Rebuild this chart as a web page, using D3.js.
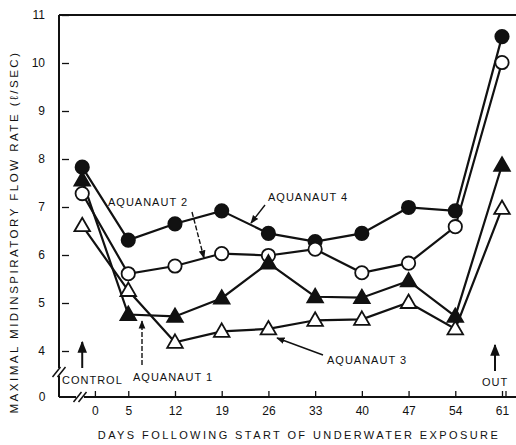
<!DOCTYPE html>
<html><head><meta charset="utf-8">
<script src="https://cdn.jsdelivr.net/npm/d3@7"></script>
<style>body{margin:0;background:#fff}svg{display:block}text{font-family:"Liberation Sans",Arial,sans-serif;fill:#111}</style>
</head><body><svg id="c" width="516" height="445"></svg>
<script>
// Days (control measurement is plotted just left of day 0)
const days = [-1.9, 5, 12, 19, 26, 33, 40, 47, 54, 61];
const xTicks = [0, 5, 12, 19, 26, 33, 40, 47, 54, 61];
const xTickLabels = ["0", "5", "12", "19", "26", "33", "40", "47", "54", "61"];
const yTicks = [4, 5, 6, 7, 8, 9, 10, 11];
const aquanaut1 = [7.56, 4.76, 4.72, 5.10, 5.83, 5.13, 5.11, 5.46, 4.72, 7.87]; // filled triangle
const aquanaut2 = [7.28, 5.61, 5.77, 6.03, 5.99, 6.12, 5.63, 5.83, 6.59, 10.01]; // open circle
const aquanaut3 = [6.61, 5.26, 4.18, 4.41, 4.46, 4.64, 4.66, 5.01, 4.46, 6.97]; // open triangle
const aquanaut4 = [7.83, 6.31, 6.65, 6.92, 6.45, 6.28, 6.45, 6.99, 6.92, 10.55]; // filled circle

const svg = d3.select("#c");
const x = d3.scaleLinear().domain([0, 61]).range([94.9, 502]);
const y = d3.scaleLinear().domain([4, 11]).range([351, 15]);
const yZero = 397, xLeft = 59, xRight = 516;

// frame: top line, left axis, bottom axis
svg.append("line").attr("x1", xLeft).attr("x2", xRight).attr("y1", y(11)).attr("y2", y(11)).attr("stroke", "#111").attr("stroke-width", 2);
svg.append("line").attr("x1", xLeft).attr("x2", xLeft).attr("y1", y(11)).attr("y2", yZero).attr("stroke", "#111").attr("stroke-width", 2);
svg.append("line").attr("x1", xLeft).attr("x2", xRight).attr("y1", yZero).attr("y2", yZero).attr("stroke", "#111").attr("stroke-width", 2);

// y axis ticks
const yAx = svg.append("g").attr("transform", `translate(${xLeft},0)`)
  .call(d3.axisLeft(y).tickValues(yTicks).tickSize(-7).tickPadding(14).tickFormat(d3.format("d")));
yAx.select(".domain").remove();
yAx.selectAll("line").attr("stroke", "#111").attr("stroke-width", 1.3).attr("transform", "translate(3,0)");
yAx.selectAll("text").attr("font-size", 12).style("font-family", "Liberation Sans, Arial, sans-serif");
svg.append("text").attr("x", xLeft - 17).attr("y", yZero + 4).attr("text-anchor", "middle").attr("font-size", 12).text("0");

// x axis ticks
const xAx = svg.append("g").attr("transform", `translate(0,${yZero})`)
  .call(d3.axisBottom(x).tickValues(xTicks).tickSize(-6).tickPadding(9).tickFormat((d, i) => xTickLabels[i]));
xAx.select(".domain").remove();
xAx.selectAll("line").attr("stroke", "#111").attr("stroke-width", 1.3);
xAx.selectAll("text").attr("font-size", 12).style("font-family", "Liberation Sans, Arial, sans-serif");
svg.append("line").attr("x1", x(61) + 4).attr("x2", x(61) + 4).attr("y1", yZero).attr("y2", yZero - 6).attr("stroke", "#111").attr("stroke-width", 1.3);

// axis breaks
function brk(cx, cy) {
  svg.append("rect").attr("x", cx - 4).attr("y", cy - 4).attr("width", 8).attr("height", 8).attr("fill", "#fff");
  [-2.5, 2.5].forEach(o => svg.append("line").attr("x1", cx + o - 4).attr("y1", cy + 5).attr("x2", cx + o + 4).attr("y2", cy - 5).attr("stroke", "#111").attr("stroke-width", 1.5));
}
brk(xLeft, 372);
brk(80, yZero);

// series
const series = [
  {v: aquanaut4, sym: d3.symbolCircle, size: 140, fill: "#111"},
  {v: aquanaut2, sym: d3.symbolCircle, size: 140, fill: "#fff"},
  {v: aquanaut1, sym: d3.symbolTriangle, size: 105, fill: "#111"},
  {v: aquanaut3, sym: d3.symbolTriangle, size: 105, fill: "#fff"}
];
const line = d3.line().x((d, i) => x(days[i])).y(d => y(d));
series.forEach(s => {
  svg.append("path").attr("d", line(s.v)).attr("fill", "none").attr("stroke", "#111").attr("stroke-width", 2.2);
});
series.forEach(s => {
  svg.append("g").selectAll("path").data(s.v).join("path")
    .attr("transform", (d, i) => `translate(${x(days[i])},${y(d) + (s.sym === d3.symbolTriangle ? 1 : 0)})`)
    .attr("d", d3.symbol(s.sym, s.size))
    .attr("fill", s.fill).attr("stroke", "#111").attr("stroke-width", 1.8);
});

// annotations
svg.append("defs").append("marker").attr("id", "ah").attr("viewBox", "0 0 10 10").attr("refX", 9).attr("refY", 5)
  .attr("markerWidth", 6).attr("markerHeight", 7).attr("orient", "auto-start-reverse")
  .append("path").attr("d", "M0,1 L10,5 L0,9 Z").attr("fill", "#111");
function arrow(x1, y1, x2, y2, dash, w) {
  svg.append("line").attr("x1", x1).attr("y1", y1).attr("x2", x2).attr("y2", y2)
    .attr("stroke", "#111").attr("stroke-width", w || 1.4).attr("stroke-dasharray", dash ? "5,2" : null).attr("marker-end", "url(#ah)");
}
function label(t, tx, ty) {
  svg.append("text").attr("x", tx).attr("y", ty).attr("font-size", 11).attr("letter-spacing", 1).text(t);
}
label("AQUANAUT  2", 108, 206);
arrow(192, 212, 204, 258, true);
label("AQUANAUT  4", 268, 201);
arrow(265, 205, 251, 223, false);
label("AQUANAUT  3", 327, 364);
arrow(323, 355, 277, 338, false);
label("AQUANAUT  1", 133, 381);
arrow(142, 365, 142, 321, true);
label("CONTROL", 62, 384);
arrow(x(days[0]), 368, x(days[0]), 342, false, 2);
label("OUT", 482, 386);
arrow(x(61) - 7, 371, x(61) - 7, 345, false, 2);

// axis titles
svg.append("text").attr("x", 299).attr("y", 439).attr("text-anchor", "middle").attr("font-size", 11).attr("letter-spacing", 2.4)
  .text("DAYS FOLLOWING START OF UNDERWATER EXPOSURE");
svg.append("text").attr("transform", "translate(18,232) rotate(-90)").attr("text-anchor", "middle").attr("font-size", 11.5).attr("letter-spacing", 2.5)
  .text("MAXIMAL  MIDINSPIRATORY  FLOW RATE (ℓ/SEC)");
</script></body></html>
